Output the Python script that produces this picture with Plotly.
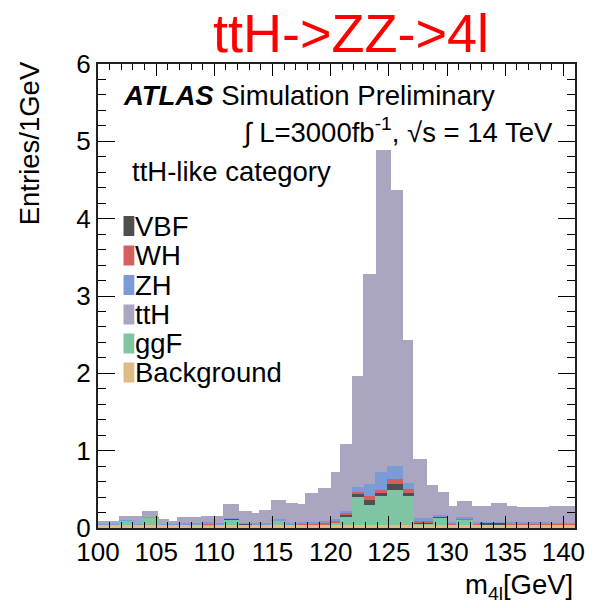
import numpy as np
import plotly.graph_objects as go

# ---------------- data ----------------
# top of the full stack (the lavender ttH layer is the uppermost one)
tth_edges = [100.0, 101.8, 103.77, 105.17, 106.08, 106.78, 108.89, 110.02, 110.78, 112.13,
             113.25, 113.81, 114.88, 116.2, 117.19, 117.83, 118.88, 120.0, 120.84, 121.83,
             122.81, 123.88, 125.2, 126.19, 127.11, 128.24, 129.2, 130.13, 130.83, 132.18,
             132.8, 133.78, 135.13, 136.03, 138.76, 141.0]
tth_stack_top = [0.088, 0.153, 0.217, 0.12, 0.097, 0.14, 0.153, 0.149, 0.304, 0.217,
                 0.19, 0.235, 0.365, 0.326, 0.304, 0.455, 0.515, 0.72, 1.09, 1.97,
                 3.29, 4.89, 4.375, 2.43, 0.895, 0.55, 0.46, 0.28, 0.35, 0.28,
                 0.29, 0.32, 0.29, 0.27, 0.29]

# lower part of the stack
sm_edges = [100.0, 101.8, 103.1, 103.8, 105.2, 106.1, 106.8, 108.9, 110.0, 110.8,
            112.1, 113.2, 113.8, 114.9, 116.2, 117.2, 117.8, 118.9, 120.0, 120.84,
            121.83, 122.9, 123.8, 124.8, 126.2, 127.2, 128.8, 130.1, 130.8, 132.2,
            132.8, 133.8, 135.1, 136.0, 138.8, 141.0]
background = [0.04, 0.04, 0.04, 0.04, 0.04, 0.04, 0.04, 0.035, 0.04, 0.04,
              0.04, 0.04, 0.04, 0.04, 0.04, 0.04, 0.04, 0.04, 0.04, 0.04,
              0.045, 0.04, 0.04, 0.04, 0.04, 0.04, 0.04, 0.04, 0.04, 0.04,
              0.04, 0.04, 0.04, 0.04, 0.04]
ggf = [0.005, 0.06, 0.005, 0.09, 0.005, 0.005, 0.005, 0.005, 0.005, 0.065,
       0.005, 0.005, 0.005, 0.06, 0.005, 0.005, 0.005, 0.005, 0.025, 0.10,
       0.36, 0.26, 0.37, 0.45, 0.37, 0.015, 0.10, 0.005, 0.065, 0.005,
       0.005, 0.005, 0.005, 0.005, 0.005]
vbf = [0, 0, 0, 0, 0, 0, 0, 0, 0, 0.015,
       0.012, 0, 0, 0, 0, 0.005, 0.005, 0.005, 0.01, 0.035,
       0.04, 0.065, 0.04, 0.075, 0.04, 0.01, 0.01, 0.003, 0.003, 0,
       0.02, 0.02, 0.003, 0.003, 0.003]
wh = [0, 0, 0, 0, 0, 0, 0.005, 0.02, 0.005, 0,
      0, 0, 0.003, 0, 0.005, 0.005, 0.005, 0.025, 0.02, 0.02,
      0.02, 0.045, 0.04, 0.075, 0.05, 0.03, 0.005, 0.01, 0.02, 0.01,
      0, 0.005, 0.015, 0.015, 0.005]
zh = [0.005, 0.003, 0.005, 0.003, 0.005, 0.005, 0.01, 0.005, 0.005, 0.005,
      0.005, 0.008, 0.01, 0.005, 0.01, 0.012, 0.015, 0.015, 0.02, 0.03,
      0.07, 0.165, 0.23, 0.165, 0.085, 0.035, 0.005, 0.01, 0.005, 0.01,
      0.005, 0.005, 0.008, 0.01, 0.01]

legend_labels = ["VBF", "WH", "ZH", "ttH", "ggF", "Background"]
x_ticks = [100, 105, 110, 115, 120, 125, 130, 135, 140]
y_ticks = [0, 1, 2, 3, 4, 5, 6]

# ---------------- styling ----------------
colors = {"VBF": "#4f4f4f", "WH": "#d35f5f", "ZH": "#7b9bd6", "ttH": "#aaa6c2",
          "ggF": "#80c5a3", "Background": "#dfbb86"}
FONT = "Liberation Sans, Arial, sans-serif"
TXT = 27.5
W, H = 597, 608
L, R, T, B = 98, 13, 64, 80
pw, ph = W - L - R, H - T - B


def pxx(x):
    return (x - L) / pw


def pxy(y):
    return (H - B - y) / ph


def centers_widths(edges):
    e = np.asarray(edges, dtype=float)
    return (e[:-1] + e[1:]) / 2, np.diff(e)


fig = go.Figure()

tc, tw = centers_widths(tth_edges)
fig.add_trace(go.Bar(x=tc, y=tth_stack_top, width=tw, name="ttH",
                     marker=dict(color=colors["ttH"], line=dict(width=0)),
                     showlegend=False, hoverinfo="skip"))

sc, sw = centers_widths(sm_edges)
layers = [("Background", background), ("ggF", ggf), ("VBF", vbf), ("WH", wh), ("ZH", zh)]
base = np.zeros(len(sc))
for name, vals in layers:
    v = np.asarray(vals, dtype=float)
    fig.add_trace(go.Bar(x=sc, y=v, base=base.copy(), width=sw, name=name,
                         marker=dict(color=colors[name], line=dict(width=0)),
                         showlegend=False, hoverinfo="skip"))
    base = base + v

fig.update_layout(
    width=W, height=H, margin=dict(l=L, r=R, t=T, b=B),
    paper_bgcolor="white", plot_bgcolor="white",
    barmode="overlay", bargap=0,
    font=dict(family=FONT, color="black"),
)
fig.update_xaxes(range=[100, 141], tickvals=x_ticks, ticks="inside", ticklen=12, tickwidth=1.3,
                 tickcolor="black", showline=True, linecolor="#222222", linewidth=2,
                 mirror="ticks", showgrid=False, zeroline=False,
                 tickfont=dict(size=26, family=FONT),
                 minor=dict(dtick=1, tick0=100, ticks="inside", ticklen=6, tickwidth=1,
                            tickcolor="black", showgrid=False))
fig.update_yaxes(range=[0, 6], tickvals=y_ticks, ticks="inside", ticklen=17, tickwidth=1.3,
                 tickcolor="black", showline=True, linecolor="#222222", linewidth=2,
                 mirror="ticks", showgrid=False, zeroline=False,
                 tickfont=dict(size=26, family=FONT),
                 minor=dict(dtick=0.2, tick0=0, ticks="inside", ticklen=8, tickwidth=1,
                            tickcolor="black", showgrid=False))

ann = []
ann.append(dict(text="ttH->ZZ->4l", x=pxx(356), y=pxy(33), xref="paper", yref="paper",
                showarrow=False, font=dict(size=54, color="#ff0000", family=FONT),
                xanchor="center", yanchor="middle"))
ann.append(dict(text="<b><i>ATLAS</i></b> Simulation Preliminary", x=pxx(121), y=pxy(95),
                xref="paper", yref="paper", showarrow=False, font=dict(size=TXT),
                xanchor="left", yanchor="middle"))
ann.append(dict(text="∫ L=3000fb<sup>-1</sup>, √s = 14 TeV", x=pxx(243), y=pxy(130),
                xref="paper", yref="paper", showarrow=False, font=dict(size=TXT),
                xanchor="left", yanchor="middle"))
ann.append(dict(text="ttH-like category", x=pxx(131), y=pxy(171),
                xref="paper", yref="paper", showarrow=False, font=dict(size=TXT),
                xanchor="left", yanchor="middle"))
ann.append(dict(text="Entries/1GeV", x=pxx(28), y=pxy(143), xref="paper", yref="paper",
                showarrow=False, textangle=-90, font=dict(size=TXT),
                xanchor="center", yanchor="middle"))
ann.append(dict(text="m<sub>4l</sub>[GeV]", x=pxx(584), y=pxy(586), xref="paper", yref="paper",
                showarrow=False, font=dict(size=TXT), xanchor="right", yanchor="middle"))

shapes = []
leg_y = [226, 255.5, 285, 314.5, 343.5, 372.5]
for lab, yc in zip(legend_labels, leg_y):
    shapes.append(dict(type="rect", xref="paper", yref="paper",
                       x0=pxx(124), x1=pxx(135), y0=pxy(yc + 10), y1=pxy(yc - 10),
                       fillcolor=colors[lab], line=dict(width=0), layer="above"))
    ann.append(dict(text=lab, x=pxx(134), y=pxy(yc), xref="paper", yref="paper",
                    showarrow=False, font=dict(size=TXT), xanchor="left", yanchor="middle"))

fig.update_layout(annotations=ann, shapes=shapes)
fig.write_html("out.html")
